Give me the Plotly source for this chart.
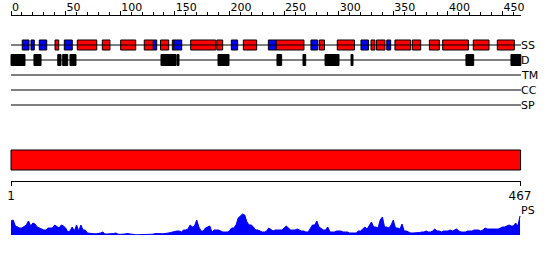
import plotly.graph_objects as go

# ---------------- data (residue coordinates) ----------------
seq_len = 467
helix_start = [40.3, 60.7, 83.6, 100.4, 122.0, 136.9, 147.7, 164.5, 188.4, 212.7, 242.6, 282.2,
               298.7, 329.6, 334.6, 351.5, 367.4, 383.0, 395.2, 423.2, 445.2]
helix_end = [43.7, 78.5, 90.6, 114.2, 130.3, 144.4, 149.2, 187.4, 193.8, 224.9, 268.2, 287.0,
             314.5, 333.2, 342.4, 365.9, 375.1, 392.1, 418.7, 437.6, 460.8]
strand_start = [10.3, 18.3, 25.9, 48.8, 130.3, 149.2, 201.7, 235.6, 274.6, 320.4, 344.0]
strand_end = [16.5, 21.3, 32.7, 56.1, 133.4, 156.3, 207.5, 242.6, 280.8, 327.3, 347.6]
dis_start = [0.0, 21.0, 42.8, 47.3, 54.0, 137.3, 152.0, 189.5, 243.5, 267.3, 287.5, 311.3, 416.5, 457.7]
dis_end = [12.8, 27.5, 45.8, 51.9, 59.5, 151.1, 153.8, 199.6, 247.8, 269.8, 300.3, 313.1, 423.6, 466.8]
domain_start = [0.0]
domain_end = [466.5]

row_labels = ["SS", "D", "TM", "CC", "SP"]

ps_pos = list(range(0, 467, 2))
ps_val = [14, 15, 9, 8, 7, 7, 9, 10, 14, 9,
          12, 11, 8, 7, 6, 5, 5, 7, 7, 7,
          10, 8, 7, 10, 9, 7, 3, 4, 8, 4,
          10, 4, 10, 5, 5, 2, 1.5, 1.5, 1.2, 1.2,
          1.5, 2, 3, 1, 1, 1, 1, 1.5, 2, 0.8,
          0.7, 0.7, 1, 1.5, 1.2, 0.4, 0.3, 0.3, 0.3, 0.3,
          0.3, 0.3, 0.3, 0.3, 0.3, 0.8, 1.5, 1.2, 1.3, 1.3,
          1.3, 2, 2, 2.5, 3, 4, 4, 4, 3, 5,
          5, 6, 10, 8, 9, 15, 8, 4, 4, 7,
          8, 9, 3, 5, 5, 5, 4, 3, 3, 3,
          4, 7, 7, 10, 17, 19, 21, 20, 13, 10,
          10, 8, 5, 5, 4, 3, 3, 4, 7, 5,
          4, 5, 5, 5, 5, 7, 9, 7, 5, 5,
          5, 6, 5, 4, 4, 3, 3, 6, 10, 10,
          14, 8, 6, 5, 5, 8, 3, 3, 3, 4,
          4, 4, 3, 3, 3, 2, 2, 2, 2, 4,
          4, 6, 8, 6, 10, 13, 8, 8, 7, 15,
          18, 8, 8, 7, 10, 15, 7, 7, 6, 11,
          4, 4, 3, 2, 2, 2, 2, 2.5, 3, 3,
          4, 3, 3, 4, 6, 4, 4, 3, 4, 4,
          4, 5, 4, 5, 6, 4, 3, 3, 3, 4,
          4, 4, 5, 5, 5, 4, 5, 7, 6, 6,
          6, 6, 6, 6, 7, 8, 8, 9, 10, 9,
          9, 12, 9, 19]

# ---------------- figure ----------------
W, H = 550, 260
L, R = 11, 521
scale = (R - L) / 466.9
xr = [-L / scale, (W - L) / scale]

row_y = [45, 60, 75, 90, 105]
fig = go.Figure()

for yy in row_y:
    fig.add_trace(go.Scatter(x=[0, 466.9], y=[yy, yy], mode="lines",
                             line=dict(color="black", width=1), hoverinfo="skip", showlegend=False))

def boxes(starts, ends, yy, color, width):
    fig.add_trace(go.Bar(orientation="h", base=starts,
                         x=[e - s for s, e in zip(starts, ends)], y=[yy] * len(starts),
                         width=width, marker=dict(color=color, line=dict(color="black", width=1)),
                         showlegend=False, hoverinfo="skip"))

boxes(helix_start, helix_end, row_y[0], "#ff0000", 10)
boxes(strand_start, strand_end, row_y[0], "#0000ff", 10)
boxes(dis_start, dis_end, row_y[1], "#000000", 11)
boxes(domain_start, domain_end, 160, "#ff0000", 20)

# profile
fig.add_trace(go.Scatter(x=ps_pos, y=ps_val, xaxis="x", yaxis="y2", mode="lines",
                         fill="tozeroy", fillcolor="#0000ff", line=dict(color="#0000ff", width=1),
                         showlegend=False, hoverinfo="skip"))

# dummy traces for ruler axes
fig.add_trace(go.Scatter(x=[0], y=[-100], xaxis="x2", yaxis="y", mode="markers",
                         marker=dict(opacity=0), showlegend=False, hoverinfo="skip"))
fig.add_trace(go.Scatter(x=[0], y=[-100], xaxis="x3", yaxis="y", mode="markers",
                         marker=dict(opacity=0), showlegend=False, hoverinfo="skip"))

font = "DejaVu Sans"
for lab, yy in zip(row_labels, row_y):
    fig.add_annotation(x=466.9, y=yy, xref="x", yref="y", text=lab, showarrow=False,
                       xanchor="left", yanchor="middle", font=dict(family=font, size=11, color="black"),
                       borderpad=0, xshift=-1)
fig.add_annotation(x=466.9, y=210, xref="x", yref="y", text="PS", showarrow=False,
                   xanchor="left", yanchor="middle", font=dict(family=font, size=11, color="black"),
                   borderpad=0, xshift=-1)

fig.update_layout(
    width=W, height=H, margin=dict(l=0, r=0, t=0, b=0, autoexpand=False),
    paper_bgcolor="white", plot_bgcolor="rgba(0,0,0,0)", barmode="overlay",
    font=dict(family=font, size=11, color="black"),
    xaxis=dict(range=xr, visible=False, domain=[0, 1], fixedrange=True),
    yaxis=dict(range=[H, 0], visible=False, domain=[0, 1], fixedrange=True),
    yaxis2=dict(range=[0, 25], visible=False, domain=[25 / H, 50 / H], anchor="x"),
    xaxis2=dict(domain=[L / W, R / W], range=[0, 466.9], anchor="free", position=1 - 15 / H,
                side="top", showline=True, linecolor="black", linewidth=1,
                ticks="outside", ticklen=4, tickcolor="black", tickwidth=1,
                tickmode="linear", tick0=0, dtick=50, ticklabelposition="outside right",
                tickfont=dict(family=font, size=11, color="black"), automargin=False,
                minor=dict(dtick=10, tick0=0, ticks="outside", ticklen=3, tickcolor="black", showgrid=False),
                showgrid=False, zeroline=False),
    xaxis3=dict(domain=[L / W, R / W], range=[0, 466.9], anchor="free", position=1 - 181 / H,
                side="bottom", showline=True, linecolor="black", linewidth=1,
                ticks="outside", ticklen=4, tickcolor="black", tickwidth=1,
                tickmode="array", tickvals=[0, 466], ticktext=["1", str(seq_len)],
                tickfont=dict(family=font, size=12, color="black"), automargin=False,
                showgrid=False, zeroline=False),
)

fig.write_html("out.html")
